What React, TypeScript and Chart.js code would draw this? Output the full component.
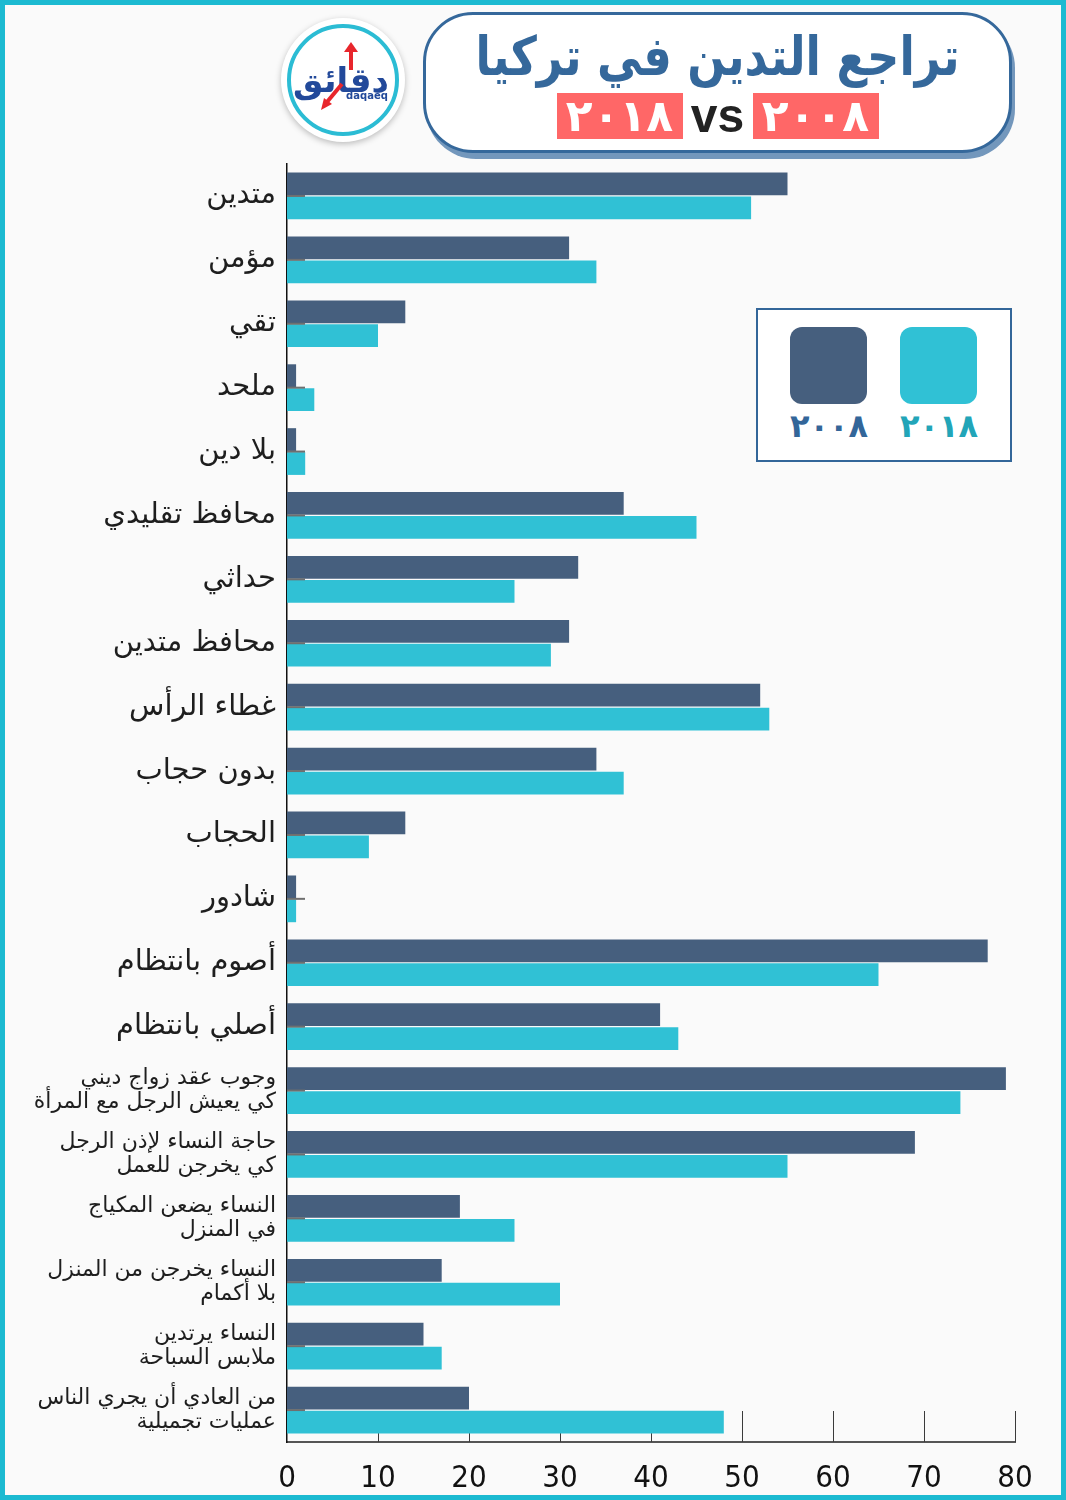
import React, { useEffect, useRef } from "react";
import { Chart, registerables } from "chart.js";

Chart.register(...registerables);

const categories: (string | string[])[] = [
  "متدين",
  "مؤمن",
  "تقي",
  "ملحد",
  "بلا دين",
  "محافظ تقليدي",
  "حداثي",
  "محافظ متدين",
  "غطاء الرأس",
  "بدون حجاب",
  "الحجاب",
  "شادور",
  "أصوم بانتظام",
  "أصلي بانتظام",
  ["وجوب عقد زواج ديني", "كي يعيش الرجل مع المرأة"],
  ["حاجة النساء لإذن الرجل", "كي يخرجن للعمل"],
  ["النساء يضعن المكياج", "في المنزل"],
  ["النساء يخرجن من المنزل", "بلا أكمام"],
  ["النساء يرتدين", "ملابس السباحة"],
  ["من العادي أن يجري الناس", "عمليات تجميلية"],
];

const values2008 = [55, 31, 13, 1, 1, 37, 32, 31, 52, 34, 13, 1, 77, 41, 79, 69, 19, 17, 15, 20];
const values2018 = [51, 34, 10, 3, 2, 45, 25, 29, 53, 37, 9, 1, 65, 43, 74, 55, 25, 30, 17, 48];

const seriesLabels = ["٢٠٠٨", "٢٠١٨"];
const xTicks = [0, 10, 20, 30, 40, 50, 60, 70, 80];

const titleText = "تراجع التدين في تركيا";

const DARK = "#465f7e";
const CYAN = "#30c1d5";

const innerTicks = {
  id: "innerTicks",
  beforeDatasetsDraw(chart: any) {
    const { ctx, chartArea, scales } = chart;
    const xs = scales.x;
    ctx.save();
    ctx.strokeStyle = "#3a3a3a";
    ctx.lineWidth = 1;
    xTicks.forEach((v) => {
      if (v === 0) return;
      const x = Math.round(xs.getPixelForValue(v)) + 0.5;
      ctx.beginPath();
      ctx.moveTo(x, chartArea.bottom);
      ctx.lineTo(x, chartArea.bottom - 31);
      ctx.stroke();
    });
    ctx.restore();
  },
  afterDatasetsDraw(chart: any) {
    const { ctx, chartArea, scales } = chart;
    const ys = scales.y;
    ctx.save();
    ctx.strokeStyle = "#6f6f6f";
    ctx.lineWidth = 2;
    categories.forEach((_, i) => {
      const y = ys.getPixelForValue(i);
      ctx.beginPath();
      ctx.moveTo(chartArea.left, y);
      ctx.lineTo(chartArea.left + 18, y);
      ctx.stroke();
    });
    ctx.restore();
  },
};

function ChartCanvas() {
  const ref = useRef<HTMLCanvasElement | null>(null);
  useEffect(() => {
    if (!ref.current) return;
    const chart = new Chart(ref.current, {
      type: "bar",
      data: {
        labels: categories as any,
        datasets: [
          {
            label: seriesLabels[0],
            data: values2008,
            backgroundColor: DARK,
            categoryPercentage: 0.75,
            barPercentage: 0.95,
          },
          {
            label: seriesLabels[1],
            data: values2018,
            backgroundColor: CYAN,
            categoryPercentage: 0.75,
            barPercentage: 0.95,
          },
        ],
      },
      options: {
        indexAxis: "y",
        responsive: false,
        animation: false,
        devicePixelRatio: 1,
        layout: { padding: { top: 164, right: 51, bottom: 0, left: 0 } },
        plugins: {
          legend: { display: false },
          tooltip: { enabled: false },
        },
        scales: {
          x: {
            min: 0,
            max: 80,
            grid: { display: false, drawTicks: false },
            border: { display: true, color: "#555", width: 2 },
            ticks: {
              stepSize: 10,
              padding: 18,
              color: "#111",
              font: { family: "'Liberation Sans Narrow', 'DejaVu Sans Condensed', sans-serif", size: 31 },
            },
            afterFit: (s: any) => {
              s.height = 58;
              s.paddingLeft = 0;
              s.paddingRight = 0;
            },
          },
          y: {
            grid: { display: false, drawTicks: false },
            border: { display: true, color: "#111", width: 1.5 },
            ticks: {
              padding: 11,
              color: "#1e1e1e",
              font: (c: any) =>
                c.index >= 14
                  ? { family: "'DejaVu Sans', sans-serif", size: 22, lineHeight: 1.08 }
                  : { family: "'DejaVu Sans', sans-serif", size: 29, lineHeight: 1.2 },
            },
            afterFit: (s: any) => {
              s.width = 287;
              s.paddingTop = 0;
              s.paddingBottom = 0;
            },
          },
        },
      } as any,
      plugins: [innerTicks],
    });
    return () => chart.destroy();
  }, []);
  return (
    <canvas
      ref={ref}
      width={1066}
      height={1500}
      style={{ position: "absolute", left: 0, top: 0, width: 1066, height: 1500 }}
    />
  );
}

function Logo() {
  return (
    <div
      style={{
        position: "absolute",
        left: 281,
        top: 18,
        width: 124,
        height: 124,
        borderRadius: "50%",
        background: "#fff",
        boxShadow: "0 2px 6px rgba(0,0,0,0.25)",
      }}
    >
      <svg width={124} height={124} viewBox="0 0 124 124">
        <circle cx={62} cy={62} r={54} fill="none" stroke="#2bbcd4" strokeWidth={4} />
        <text
          x={60}
          y={74}
          textAnchor="middle"
          fontFamily="'DejaVu Sans', sans-serif"
          fontWeight="bold"
          fontSize={34}
          fill="#22499a"
        >
          دقائق
        </text>
        <line x1={70} y1={52} x2={70} y2={30} stroke="#e8262c" strokeWidth={4} />
        <polygon points="63,34 70,24 77,34" fill="#e8262c" />
        <line x1={61} y1={66} x2={46} y2={84} stroke="#e8262c" strokeWidth={4} />
        <polygon points="40,92 43,80 51,86" fill="#e8262c" />
        <text
          x={86}
          y={81}
          textAnchor="middle"
          fontFamily="'DejaVu Sans', sans-serif"
          fontWeight="bold"
          fontSize={10}
          fill="#22499a"
        >
          daqaeq
        </text>
      </svg>
    </div>
  );
}

function Title() {
  const box: React.CSSProperties = {
    display: "inline-block",
    width: 126,
    height: 46,
    lineHeight: "46px",
    background: "#ff6767",
    color: "#fff",
    fontFamily: "'DejaVu Sans', sans-serif",
    fontWeight: "bold",
    fontSize: 44,
    letterSpacing: 6,
    textAlign: "center",
    verticalAlign: "middle",
    direction: "ltr",
  };
  return (
    <div
      style={{
        position: "absolute",
        left: 423,
        top: 12,
        width: 583,
        height: 135,
        border: "3px solid #35689b",
        borderRadius: 50,
        background: "#fff",
        boxShadow: "3px 6px 0 #7397bc",
        textAlign: "center",
      }}
    >
      <div style={{ marginTop: 10, height: 64 }}>
        <span
          style={{
            display: "inline-block",
            fontFamily: "'DejaVu Sans', sans-serif",
            fontWeight: "bold",
            fontSize: 54,
            lineHeight: "64px",
            color: "#35689b",
            direction: "rtl",
            transform: "scaleX(0.83)",
            transformOrigin: "center",
            whiteSpace: "nowrap",
          }}
        >
          {titleText}
        </span>
      </div>
      <div style={{ direction: "ltr", marginTop: 4, height: 46 }}>
        <span style={box}>{seriesLabels[1]}</span>
        <span
          style={{
            display: "inline-block",
            width: 70,
            fontFamily: "'Liberation Sans Narrow', sans-serif",
            fontWeight: "bold",
            fontSize: 48,
            lineHeight: "46px",
            color: "#222",
            verticalAlign: "middle",
          }}
        >
          vs
        </span>
        <span style={box}>{seriesLabels[0]}</span>
      </div>
    </div>
  );
}

function Legend() {
  const sq = (left: number, color: string): React.CSSProperties => ({
    position: "absolute",
    left,
    top: 17,
    width: 77,
    height: 77,
    borderRadius: 12,
    background: color,
  });
  const lab = (left: number, color: string): React.CSSProperties => ({
    position: "absolute",
    left,
    top: 97,
    width: 100,
    textAlign: "center",
    fontFamily: "'DejaVu Sans', sans-serif",
    fontWeight: "bold",
    fontSize: 32,
    letterSpacing: 4,
    color,
    direction: "ltr",
  });
  return (
    <div
      style={{
        position: "absolute",
        left: 756,
        top: 308,
        width: 252,
        height: 150,
        border: "2px solid #336699",
        background: "#fff",
      }}
    >
      <div style={sq(32, DARK)} />
      <div style={sq(142, CYAN)} />
      <div style={lab(21, "#336699")}>{seriesLabels[0]}</div>
      <div style={lab(131, "#22a5b8")}>{seriesLabels[1]}</div>
    </div>
  );
}

export default function App() {
  return (
    <div
      style={{
        position: "absolute",
        left: 0,
        top: 0,
        width: 1066,
        height: 1500,
        background: "#fafafa",
        overflow: "hidden",
      }}
    >
      <ChartCanvas />
      <Logo />
      <Title />
      <Legend />
      <div
        style={{
          position: "absolute",
          left: 0,
          top: 0,
          width: 1066,
          height: 1500,
          boxSizing: "border-box",
          border: "5px solid #1cbad1",
          pointerEvents: "none",
        }}
      />
    </div>
  );
}
